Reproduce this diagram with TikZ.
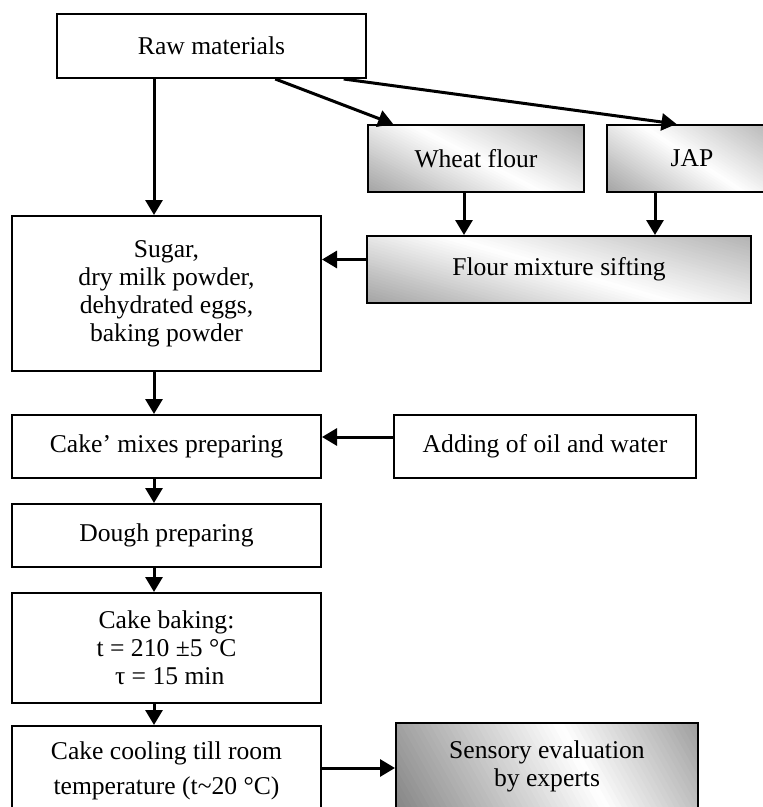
\documentclass[tikz,border=0pt]{standalone}
\usepackage{fontspec}
\setmainfont{Liberation Serif}
\usetikzlibrary{positioning, arrows.meta, calc}

% slanted grey-white-grey strips inside a node (#1 slant, #2 white spot, #3/#4 grey at the ends)
\newcommand{\shadestrips}[4]{%
  \coordinate (psw) at (path picture bounding box.south west);
  \coordinate (pse) at (path picture bounding box.south east);
  \coordinate (pnw) at (path picture bounding box.north west);
  \coordinate (pne) at (path picture bounding box.north east);
  \foreach \i in {0,...,59}{
    \pgfmathsetmacro\ta{-#1+(1+2*#1)*\i/60}
    \pgfmathsetmacro\tb{-#1+(1+2*#1)*(\i+1.3)/60}
    \pgfmathsetmacro\tm{-#1+(1+2*#1)*(\i+0.5)/60}
    \pgfmathsetmacro\g{\tm<#2 ? #3*(#2-\tm)/(#2+#1) : #4*(\tm-#2)/(1+#1-#2)}
    \pgfmathsetmacro\ba{\ta+#1}
    \pgfmathsetmacro\bb{\tb+#1}
    \pgfmathsetmacro\ua{\ta-#1}
    \pgfmathsetmacro\ub{\tb-#1}
    \fill[black!\g!white] ($(psw)!\ba!(pse)$) -- ($(psw)!\bb!(pse)$)
        -- ($(pnw)!\ub!(pne)$) -- ($(pnw)!\ua!(pne)$) -- cycle;
  }}

\begin{document}
\begin{tikzpicture}[x=1pt, y=-1pt,
    box/.style={draw=black, line width=2pt, align=center, inner sep=0pt,
        font=\fontsize{25.6}{28}\selectfont},
    shadebox/.style={box, path picture={\shadestrips{0.3}{0.5}{36}{30}}},
    darkbox/.style={box, path picture={\shadestrips{0.08}{0.62}{48}{38}}},
    arr/.style={-{Triangle[length=15pt,width=17pt]}, line width=3pt}
]
\useasboundingbox (0,0) rectangle (763,807);
\clip (0,0) rectangle (763,807);

\node[box, minimum width=309pt, minimum height=64pt](raw) at (211.5, 46) {Raw materials};

\node[shadebox, minimum width=216pt, minimum height=67pt](wheat) at (476, 158.5) {Wheat flour};
\node[shadebox, minimum width=170pt, minimum height=67pt](jap) at (692, 158.5) {JAP};
\node[shadebox, minimum width=384pt, minimum height=67pt](sift) at (559, 269.5) {Flour mixture sifting};

\node[box, minimum width=309pt, minimum height=155pt](sugar) at (166.5, 293.5)
    {Sugar,\\dry milk powder,\\dehydrated eggs,\\baking powder};
\node[box, minimum width=309pt, minimum height=63pt](mixes) at (166.5, 446.5) {Cake’ mixes preparing};
\node[box, minimum width=302pt, minimum height=63pt](oil) at (545, 446.5) {Adding of oil and water};
\node[box, minimum width=309pt, minimum height=63pt](dough) at (166.5, 535.5) {Dough preparing};
\node[box, minimum width=309pt, minimum height=110pt](baking) at (166.5, 648)
    {Cake baking:\\t = 210 ±5 °C\\ \ τ = 15 min};
\node[box, minimum width=309pt, minimum height=89pt](cooling) at (166.5, 770.5)
    {Cake cooling till room\\[7pt]temperature (t\textasciitilde 20 °C)};
\node[darkbox, minimum width=302pt, minimum height=87pt](sensory) at (547, 766.5)
    {Sensory evaluation\\by experts};

\coordinate (mainline) at (154, 0);

\draw[arr] (raw.south -| mainline) -- (sugar.north -| mainline);
\draw[arr] ($(raw.south west)!0.705!(raw.south east)$) -- ($(wheat.north west)!0.12!(wheat.north east)$);
\draw[arr] ($(raw.south west)!0.925!(raw.south east)$) -- ($(jap.north west)!0.41!(jap.north east)$);

\draw[arr] ([xshift=-12pt]wheat.south) -- ([xshift=-12pt]wheat.south |- sift.north);
\draw[arr] ([xshift=-37pt]jap.south) -- ([xshift=-37pt]jap.south |- sift.north);
\draw[arr] ([yshift=10pt]sift.west) -- ([yshift=10pt]sift.west -| sugar.east);

\draw[arr] (sugar.south -| mainline) -- (mixes.north -| mainline);
\draw[arr] ([yshift=9.5pt]oil.west) -- ([yshift=9.5pt]oil.west -| mixes.east);
\draw[arr] (mixes.south -| mainline) -- (dough.north -| mainline);
\draw[arr] (dough.south -| mainline) -- (baking.north -| mainline);
\draw[arr] (baking.south -| mainline) -- (cooling.north -| mainline);
\draw[arr] ([yshift=2.5pt]cooling.east) -- ([yshift=2.5pt]cooling.east -| sensory.west);
\end{tikzpicture}
\end{document}
